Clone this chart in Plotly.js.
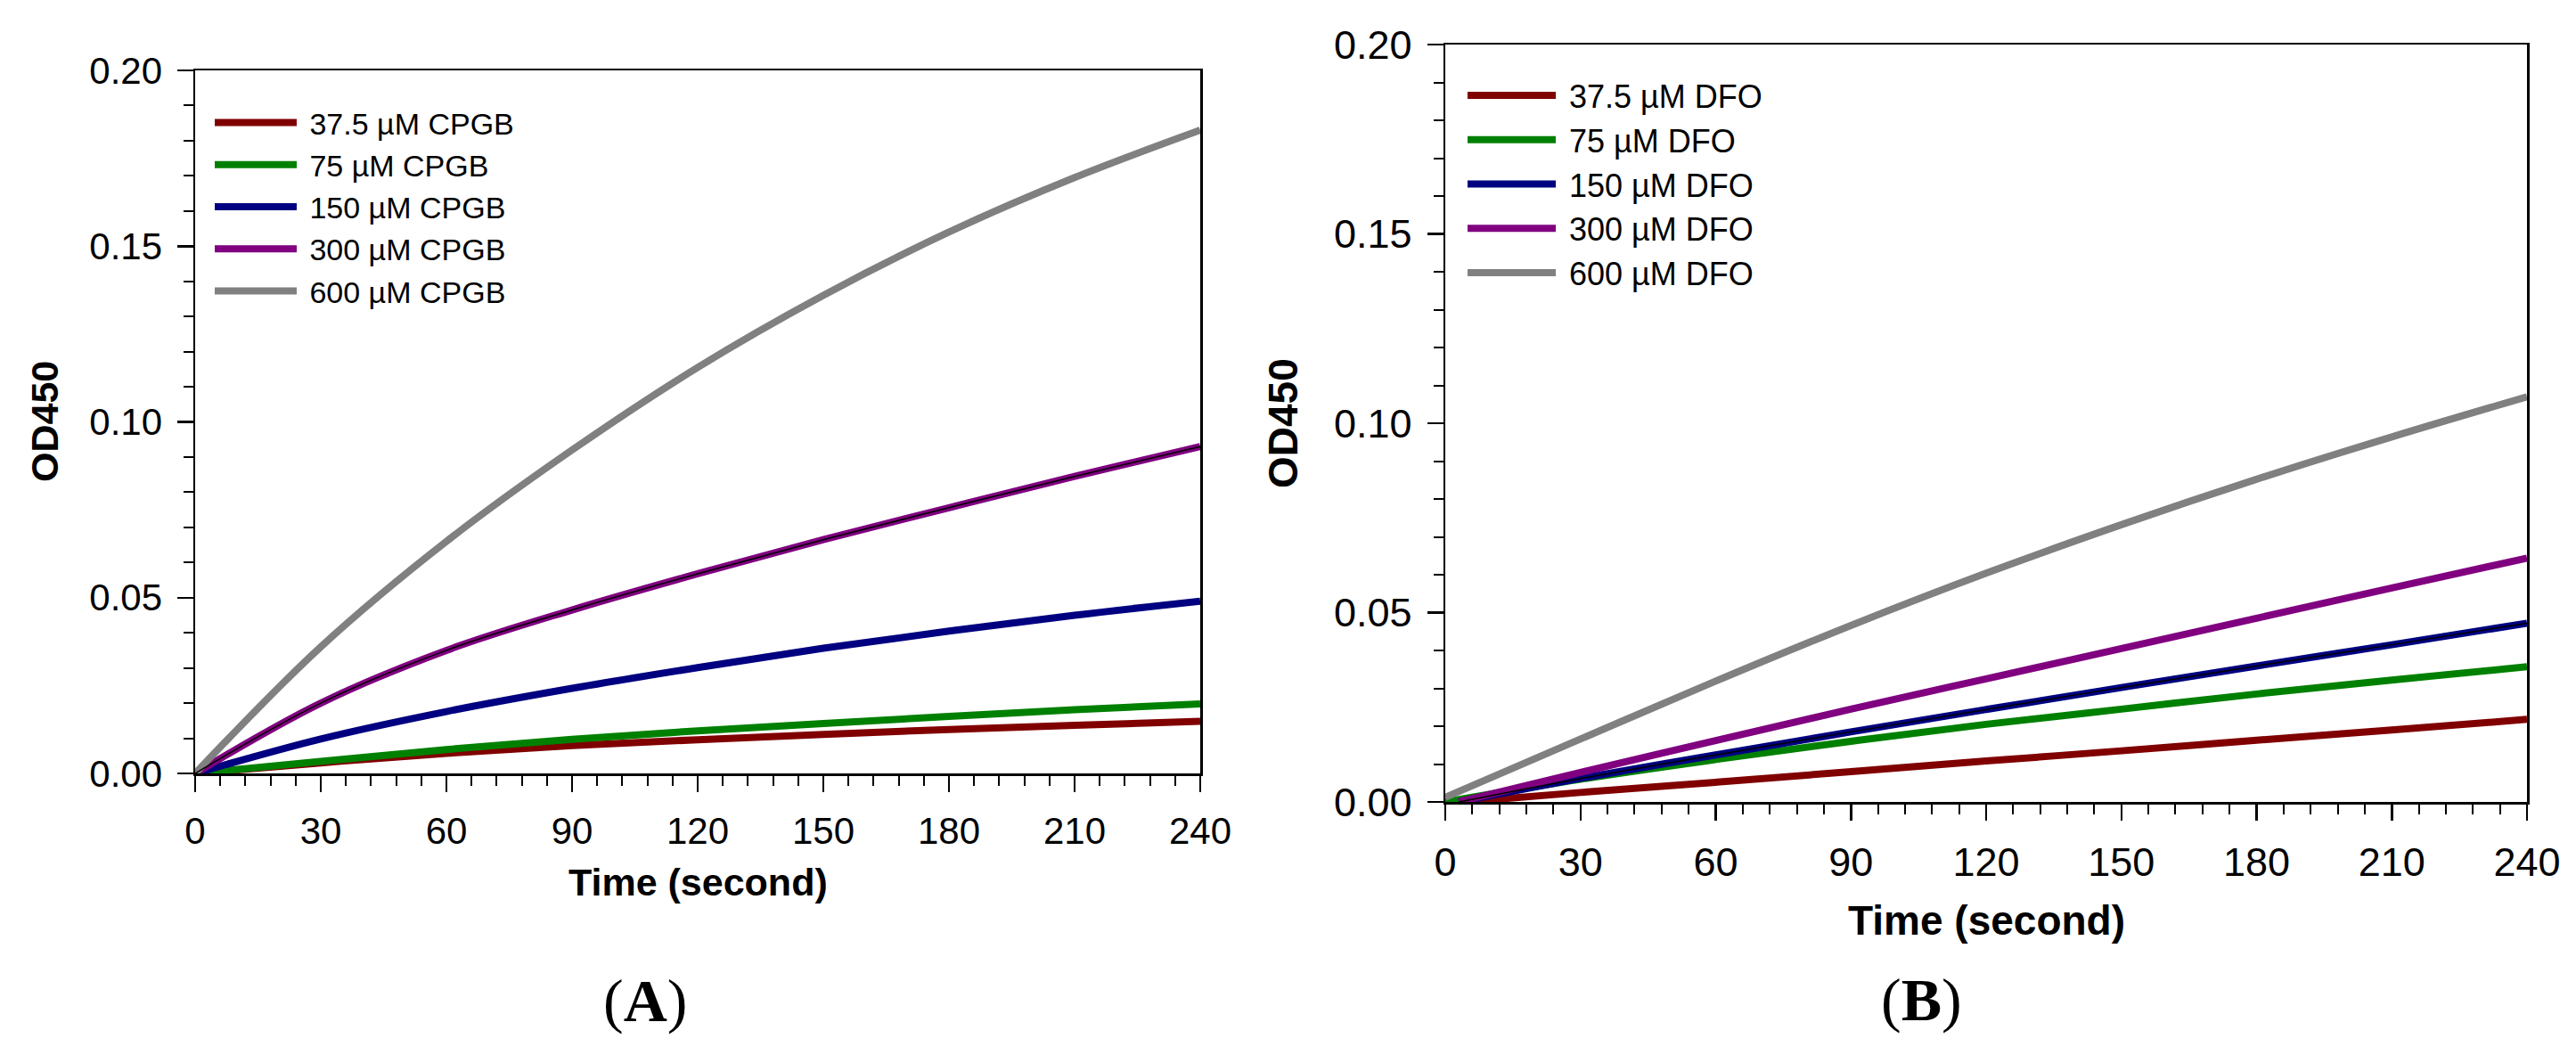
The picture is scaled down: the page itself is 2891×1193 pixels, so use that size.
<!DOCTYPE html>
<html>
<head>
<meta charset="utf-8">
<script src="https://cdn.plot.ly/plotly-3.0.1.min.js"></script>
<style>
  html, body { margin: 0; padding: 0; background: #fff; }
  #chart { width: 2891px; height: 1193px; }
</style>
</head>
<body>
<div id="chart"></div>
<script>
// time points (seconds); some DFO curves only start a few seconds in
const time = [0, 30, 60, 90, 120, 150, 180, 210, 240];
const timeFrom3 = [3, 30, 60, 90, 120, 150, 180, 210, 240];
const timeFrom4 = [4, 30, 60, 90, 120, 150, 180, 210, 240];

// panel A: CPGB, OD450
const cpgbLabels = ['37.5 µM CPGB', '75 µM CPGB', '150 µM CPGB', '300 µM CPGB', '600 µM CPGB'];
const cpgb37 = [0, 0.0030, 0.0057, 0.0079, 0.0096, 0.0111, 0.0125, 0.0137, 0.0148];
const cpgb75 = [0, 0.0034, 0.0068, 0.0097, 0.0121, 0.0142, 0.0162, 0.0181, 0.0198];
const cpgb150 = [0, 0.0098, 0.0176, 0.0242, 0.0301, 0.0356, 0.0405, 0.0450, 0.0490];
const cpgb300 = [0, 0.0200, 0.0350, 0.0465, 0.0568, 0.0665, 0.0756, 0.0845, 0.0930];
const cpgb600 = [0, 0.0360, 0.0660, 0.0920, 0.1155, 0.1360, 0.1540, 0.1695, 0.1830];

// panel B: DFO, OD450
const dfoLabels = ['37.5 µM DFO', '75 µM DFO', '150 µM DFO', '300 µM DFO', '600 µM DFO'];
const dfo37 = [0, 0.0025, 0.0052, 0.0080, 0.0108, 0.0135, 0.0163, 0.0190, 0.0218];
const dfo75 = [0, 0.0060, 0.0112, 0.0160, 0.0205, 0.0245, 0.0285, 0.0322, 0.0357];
const dfo150 = [0, 0.0062, 0.0124, 0.0185, 0.0244, 0.0302, 0.0359, 0.0415, 0.0472];
const dfo300 = [0, 0.0078, 0.0162, 0.0245, 0.0325, 0.0405, 0.0485, 0.0565, 0.0644];
const dfo600 = [0.0012, 0.0166, 0.0319, 0.0466, 0.0604, 0.0732, 0.0852, 0.0964, 0.1070];

const colors = ['#800000', '#008000', '#000080', '#800080', '#808080'];
const font = 'Arial, "Liberation Sans", sans-serif';
const serif = '"Liberation Serif", "Times New Roman", serif';
const W = 2891, H = 1193;

function curve(x, y, name, color, xa, ya, legend) {
  return {
    x: x, y: y, name: '\u00a0' + name, type: 'scatter', mode: 'lines',
    line: { color: color, width: 8, shape: 'spline' },
    xaxis: xa, yaxis: ya, legend: legend
  };
}
// thin black line drawn inside some of the curves
function core(x, y, xa, ya) {
  return {
    x: x, y: y, type: 'scatter', mode: 'lines', showlegend: false,
    line: { color: '#000', width: 1.5, shape: 'spline' },
    xaxis: xa, yaxis: ya, hoverinfo: 'skip'
  };
}

const seriesA = [cpgb37, cpgb75, cpgb150, cpgb300, cpgb600];
const seriesB = [dfo37, dfo75, dfo150, dfo300, dfo600];
const timesB = [timeFrom4, time, timeFrom3, timeFrom3, time];

const data = [];
seriesA.forEach((s, i) => data.push(curve(time, s, cpgbLabels[i], colors[i], 'x', 'y', 'legend')));
data.push(core(time, cpgb300, 'x', 'y'));
seriesB.forEach((s, i) => data.push(curve(timesB[i], s, dfoLabels[i], colors[i], 'x2', 'y2', 'legend2')));
data.push(core(timeFrom3, dfo150, 'x2', 'y2'));

function xAxis(domain, anchor, fs) {
  return {
    domain: domain, anchor: anchor, range: [0, 240], tick0: 0, dtick: 30,
    ticks: 'outside', ticklen: 18, tickwidth: 2.5, tickcolor: '#000',
    showline: true, linewidth: 2.5, linecolor: '#000', mirror: true,
    showgrid: false, zeroline: false, fixedrange: true,
    tickfont: { family: font, size: fs, color: '#000' },
    ticklabelstandoff: 8,
    minor: { dtick: 6, ticks: 'outside', ticklen: 11, tickwidth: 2, tickcolor: '#000', showgrid: false }
  };
}
function yAxis(domain, anchor, fs) {
  return {
    domain: domain, anchor: anchor, range: [0, 0.2], tick0: 0, dtick: 0.05, tickformat: '.2f',
    ticks: 'outside', ticklen: 18, tickwidth: 2.5, tickcolor: '#000',
    showline: true, linewidth: 2.5, linecolor: '#000', mirror: true,
    showgrid: false, zeroline: false, fixedrange: true,
    tickfont: { family: font, size: fs, color: '#000' },
    ticklabelstandoff: 8,
    minor: { dtick: 0.01, ticks: 'outside', ticklen: 11, tickwidth: 2, tickcolor: '#000', showgrid: false }
  };
}

function px(x) { return x / W; }
function py(y) { return 1 - y / H; }

function label(text, x, y, size, family, opts) {
  return Object.assign({
    text: text, xref: 'paper', yref: 'paper', x: px(x), y: py(y),
    xanchor: 'center', yanchor: 'middle', showarrow: false,
    font: { family: family, size: size, color: '#000' }
  }, opts || {});
}

const layout = {
  width: W, height: H,
  margin: { l: 0, r: 0, t: 0, b: 0 },
  paper_bgcolor: '#fff', plot_bgcolor: '#fff',
  showlegend: true,
  xaxis: xAxis([px(219), px(1347)], 'y', 42),
  yaxis: yAxis([py(868), py(79)], 'x', 42),
  xaxis2: xAxis([px(1622), px(2836)], 'y2', 45),
  yaxis2: yAxis([py(900), py(50)], 'x2', 45),
  legend: {
    x: px(236), y: py(109), xanchor: 'left', yanchor: 'top',
    bgcolor: 'rgba(0,0,0,0)', borderwidth: 0, itemwidth: 92,
    font: { family: font, size: 34, color: '#000' }
  },
  legend2: {
    x: px(1642), y: py(77), xanchor: 'left', yanchor: 'top',
    bgcolor: 'rgba(0,0,0,0)', borderwidth: 0, itemwidth: 99,
    font: { family: font, size: 36, color: '#000' }
  },
  annotations: [
    label('<b>OD450</b>', 50, 473, 43, font, { textangle: -90 }),
    label('<b>Time (second)</b>', 783, 990, 43, font),
    label('(<b>A</b>)', 724, 1123, 68, serif),
    label('<b>OD450</b>', 1440, 475, 46, font, { textangle: -90 }),
    label('<b>Time (second)</b>', 2229, 1033, 46, font),
    label('(<b>B</b>)', 2156, 1122, 68, serif)
  ]
};

Plotly.newPlot('chart', data, layout, { displayModeBar: false, staticPlot: true });
</script>
</body>
</html>
